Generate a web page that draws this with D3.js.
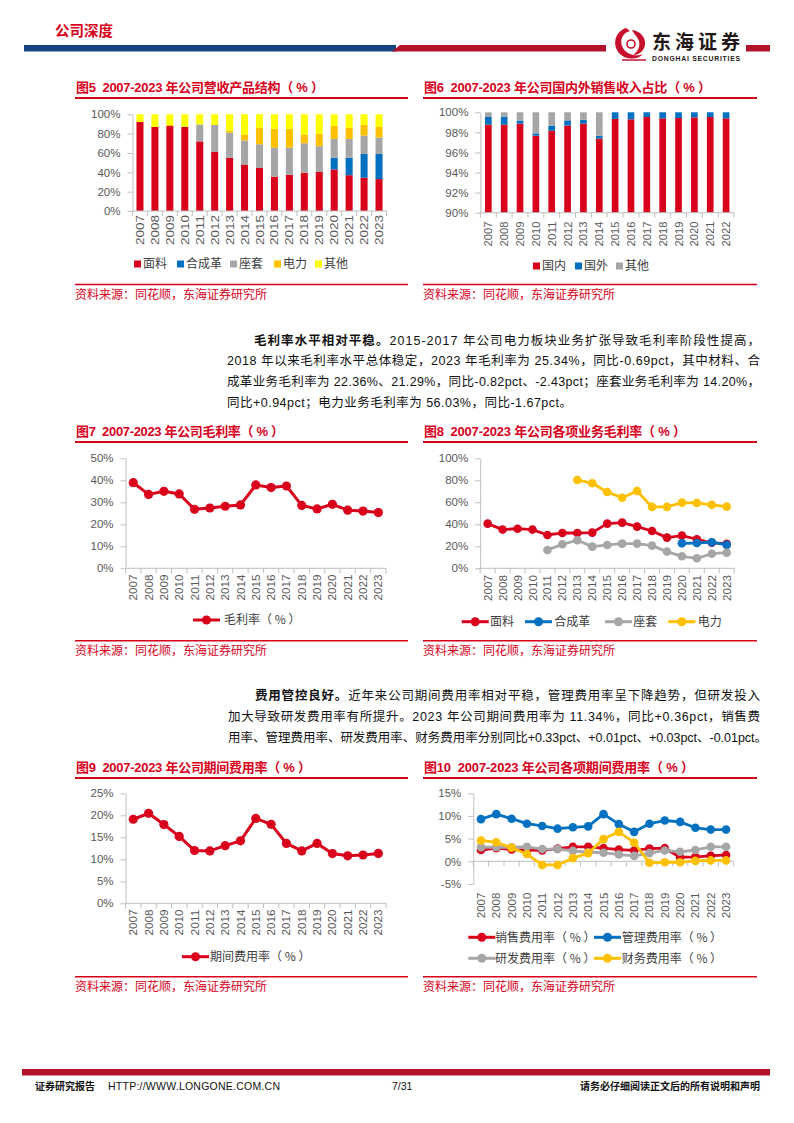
<!DOCTYPE html>
<html><head><meta charset="utf-8">
<script src="https://cdn.jsdelivr.net/npm/d3@7/dist/d3.min.js"></script>
<style>body{margin:0;background:#fff}svg{display:block}</style>
</head><body>
<svg id="page" width="794" height="1123"></svg>
<script>
// ---------------- DATA ----------------
const years = ["2007","2008","2009","2010","2011","2012","2013","2014","2015","2016","2017","2018","2019","2020","2021","2022","2023"];
const years6 = ["2007","2008","2009","2010","2011","2012","2013","2014","2015","2016","2017","2018","2019","2020","2021","2022"];

// Fig 5 revenue structure (%)
const rev_mianliao   = [92,87,88,87,72,61,55,48,44.5,35.5,37.5,39.5,40.5,43,37,34.5,33];
const rev_hechengge  = [0,0,0,0,0,0,0,0,0,0,0,0,0,12,18,24.5,26];
const rev_zuotao     = [0,0,0,0,17.5,28,26,25,24.5,30,28,30.5,26.5,19.5,19.5,19,17];
const rev_dianli     = [0,0,1,0,0,0,2,6,17,19.5,19.5,9,13,13.5,11.5,11,11];
const rev_qita       = [8,13,11,13,10.5,11,17,21,14,15,15,21,20,12,14,11,13];
const rev_names      = ["面料","合成革","座套","电力","其他"];

// Fig 6 domestic / overseas (%)
const sale_domestic = [98.77,98.77,98.87,97.67,98.17,98.67,98.87,97.38,99.34,99.30,99.53,99.40,99.43,99.50,99.53,99.40];
const sale_abroad   = [0.76,0.80,0.30,0.23,0.50,0.53,0.40,0.29,0.66,0.70,0.47,0.60,0.57,0.50,0.47,0.60];
const sale_other    = [0.47,0.43,0.83,2.10,1.33,0.80,0.73,2.33,0,0,0,0,0,0,0,0];
const sale_names    = ["国内","国外","其他"];

// Fig 7 gross margin (%)
const grossMargin = [38.9,33.6,35.0,33.8,26.8,27.4,28.2,28.8,37.9,36.7,37.4,28.6,27.0,29.1,26.4,26.03,25.34];

// Fig 8 gross margin by business (%)
const gm_mianliao  = [40.6,35.2,36.0,35.2,30.3,32.1,32.1,32.4,40.6,41.5,37.9,33.9,27.9,29.7,26.4,23.18,22.36];
const gm_hechengge = [null,null,null,null,null,null,null,null,null,null,null,null,null,22.7,23.0,23.72,21.29];
const gm_zuotao    = [null,null,null,null,16.7,21.8,25.5,19.7,21.2,22.4,22.4,20.6,15.2,10.9,9.1,13.26,14.20];
const gm_dianli    = [null,null,null,null,null,null,80.3,77.3,69.4,64.2,70.3,55.8,55.8,59.7,59.4,57.70,56.03];

// Fig 9 period expense ratio (%)
const expenseRatio = [19.1,20.45,17.9,15.2,12.0,11.9,13.1,14.2,19.3,17.95,13.6,11.9,13.6,11.3,10.8,10.98,11.34];

// Fig 10 expense ratios (%)
const exp_sales = [2.5,2.9,2.6,2.5,2.4,2.8,3.2,3.2,2.9,2.6,2.4,2.8,2.9,0.9,1.0,1.2,1.4];
const exp_admin = [9.3,10.4,9.4,8.3,7.8,7.2,7.5,7.7,10.4,8.2,6.5,8.3,9.0,8.7,7.4,7.0,7.0];
const exp_rd    = [3.1,3.1,3.1,3.2,2.7,2.7,2.3,2.0,1.9,1.5,1.2,1.8,2.4,2.1,2.5,3.2,3.2];
const exp_fin   = [4.6,4.2,3.0,1.6,-0.8,-0.8,0.7,1.8,4.9,6.5,4.1,-0.3,-0.2,-0.2,0.1,0.2,0.2];

// ---------------- STYLE ----------------
const RED = "#D9001B", BLUE = "#0070C0", GRAY = "#A6A6A6", ORANGE = "#FFC000", YELLOW = "#FFFF00";
const TITLE_RED = "#D9001B";
const LAT = "'Liberation Sans', Arial, 'Noto Sans CJK SC', sans-serif";
const CJK = "'Noto Sans CJK SC', 'Liberation Sans', sans-serif";
const AXIS = "#BFBFBF", TICKTXT = "#595959";

const svg = d3.select("#page");

// ---------------- HEADER ----------------
svg.append("text").attr("x",55).attr("y",36).attr("font-family",CJK).attr("font-weight","bold")
  .attr("font-size",14.5).attr("fill",RED).text("公司深度");
svg.append("rect").attr("x",24).attr("y",45).attr("width",372).attr("height",6.5).attr("fill","#17437F");
svg.append("path").attr("d","M392,51.5 L400,45 L770,45 L770,51.5 Z").attr("fill","#B3122B");
// logo
const logo = svg.append("g");
logo.append("rect").attr("x",606).attr("y",22).attr("width",140).attr("height",44).attr("fill","#fff");
logo.append("path").attr("d","M626,28 C614,32 612,46 620,54 C626,60 638,60 643,54 C637,57 627,55 623,48 C619,41 622,33 630,31 Z")
  .attr("fill","#C8102E");
logo.append("path").attr("d","M632,30 C640,31 646,37 645,45 C644,51 639,55 633,55 C639,51 641,44 638,39 C636,35 633,33 632,30 Z")
  .attr("fill","#C8102E");
logo.append("circle").attr("cx",631).attr("cy",44).attr("r",4).attr("fill","none").attr("stroke","#C8102E").attr("stroke-width",1.6);
logo.append("path").attr("d","M622,60 L646,60").attr("stroke","#C8102E").attr("stroke-width",1.5);
logo.append("text").attr("x",652).attr("y",49).attr("font-family",CJK).attr("font-weight","bold")
  .attr("font-size",19).attr("fill","#231815").attr("textLength",88).text("东海证券");
logo.append("text").attr("x",652).attr("y",61).attr("font-family",LAT).attr("font-weight","bold")
  .attr("font-size",6.8).attr("fill","#231815").attr("textLength",88).text("DONGHAI SECURITIES");

// ---------------- HELPERS ----------------
function title(x0, x1, yc, txt, len) {
  svg.append("text").attr("x",x0+1).attr("y",yc+4.5).attr("font-family",LAT).attr("font-weight","bold")
    .attr("font-size",13).attr("fill",TITLE_RED).attr("xml:space","preserve")
    .attr("textLength",len).attr("lengthAdjust","spacing").text(txt);
  svg.append("line").attr("x1",x0).attr("x2",x1).attr("y1",yc+11).attr("y2",yc+11)
    .attr("stroke",TITLE_RED).attr("stroke-width",2);
}
function source(x0, x1, yLine) {
  svg.append("line").attr("x1",x0).attr("x2",x1).attr("y1",yLine).attr("y2",yLine)
    .attr("stroke",TITLE_RED).attr("stroke-width",1.5);
  svg.append("text").attr("x",x0).attr("y",yLine+14.5).attr("font-family",CJK)
    .attr("font-size",12).attr("fill",TITLE_RED).text("资料来源：同花顺，东海证券研究所");
}
function styleAxis(g) {
  g.selectAll("path.domain").attr("stroke",AXIS);
  g.selectAll(".tick line").attr("stroke",AXIS);
  g.selectAll("text").attr("fill",TICKTXT).attr("font-family",LAT);
}
function xAxis(g, x, axisY, labelTop, left, right, fs, tlen) {
  const ax = g.append("g").attr("transform",`translate(0,${axisY})`)
    .call(d3.axisBottom(x).tickSize(0).tickPadding(0));
  ax.select("path.domain").remove();
  ax.selectAll("text").attr("transform","rotate(-90)").attr("text-anchor","end")
    .attr("x",-(labelTop-axisY)).attr("y",0).attr("dy","0.35em")
    .attr("font-size",fs).attr("fill",TICKTXT).attr("font-family",LAT);
  if (tlen) ax.selectAll("text").attr("textLength",tlen).attr("lengthAdjust","spacingAndGlyphs");
  g.append("line").attr("x1",left).attr("x2",right).attr("y1",axisY).attr("y2",axisY).attr("stroke",AXIS);
  const bounds = x.domain().map(d => x(d)).concat([right]);
  g.selectAll(null).data(bounds).join("line")
    .attr("x1",d=>d).attr("x2",d=>d).attr("y1",axisY).attr("y2",axisY+5).attr("stroke",AXIS);
}
function yAxis(g, y, left, ticks, pad, fs) {
  const ax = g.append("g").attr("transform",`translate(${left},0)`)
    .call(d3.axisLeft(y).tickValues(ticks).tickSize(5).tickSizeOuter(0).tickPadding(pad).tickFormat(d => d + "%"));
  styleAxis(ax);
  ax.selectAll("text").attr("font-size",fs);
}

function lineChart(cfg) {
  const g = svg.append("g");
  const x = d3.scaleBand().domain(cfg.cats).range([cfg.left, cfg.right]);
  const y = d3.scaleLinear().domain(cfg.domain).range([cfg.bottom, cfg.top]);
  yAxis(g, y, cfg.left, cfg.ticks, cfg.pad, 11.5);
  xAxis(g, x, y(cfg.base), cfg.labelTop, cfg.left, cfg.right, 11.5, cfg.tlen);
  const bw = x.bandwidth()/2;
  cfg.series.forEach(s => {
    const pts = cfg.cats.map((c,i)=>({c, v:s.values[i]}));
    const line = d3.line().defined(d=>d.v!=null).x(d=>x(d.c)+bw).y(d=>y(d.v));
    g.append("path").attr("d",line(pts)).attr("fill","none").attr("stroke",s.color)
      .attr("stroke-width",cfg.lw).attr("stroke-linejoin","round");
    g.selectAll(null).data(pts.filter(d=>d.v!=null)).join("circle")
      .attr("cx",d=>x(d.c)+bw).attr("cy",d=>y(d.v)).attr("r",cfg.r).attr("fill",s.color);
  });
  return g;
}
function lineLegend(items, fs) {
  items.forEach(it => {
    svg.append("line").attr("x1",it.x).attr("x2",it.x+27).attr("y1",it.y).attr("y2",it.y)
      .attr("stroke",it.color).attr("stroke-width",3);
    svg.append("circle").attr("cx",it.x+13.5).attr("cy",it.y).attr("r",4.5).attr("fill",it.color);
    svg.append("text").attr("x",it.tx).attr("y",it.y+4.3).attr("font-family",CJK).attr("font-size",fs)
      .attr("fill","#404040").attr("xml:space","preserve").text(it.label);
  });
}
function barLegend(items, fs) {
  items.forEach(it => {
    svg.append("rect").attr("x",it.x).attr("y",it.y-3.5).attr("width",7).attr("height",7).attr("fill",it.color);
    svg.append("text").attr("x",it.x+9).attr("y",it.y+4.3).attr("font-family",CJK).attr("font-size",fs)
      .attr("fill","#404040").text(it.label);
  });
}
function stackBars(cfg) {
  const g = svg.append("g");
  const x = d3.scaleBand().domain(cfg.cats).range([cfg.left, cfg.right]).paddingInner(cfg.padding).paddingOuter(cfg.padding/2);
  const y = d3.scaleLinear().domain(cfg.domain).range([cfg.bottom, cfg.top]).clamp(true);
  const rows = cfg.cats.map((c,i)=>{ const o={c}; cfg.keys.forEach((k,j)=>o[k]=cfg.values[j][i]); return o; });
  const stack = d3.stack().keys(cfg.keys)(rows);
  stack.forEach((layer,j) => {
    g.selectAll(null).data(layer.filter(d=>d[1]-d[0]>0)).join("rect")
      .attr("x",d=>x(d.data.c)).attr("width",x.bandwidth())
      .attr("y",d=>y(d[1])).attr("height",d=>y(d[0])-y(d[1])).attr("fill",cfg.colors[j]);
  });
  yAxis(g, y, cfg.left, cfg.ticks, cfg.pad, 11.5);
  const xb = d3.scaleBand().domain(cfg.cats).range([cfg.left, cfg.right]);
  xAxis(g, xb, cfg.bottom, cfg.labelTop, cfg.left, cfg.right, 11.5, cfg.tlen);
  return g;
}

// ---------------- ROW 1 ----------------
title(75, 408, 87, "图5  2007-2023 年公司营收产品结构（ % ）", 248);
title(423, 757, 87, "图6  2007-2023 年公司国内外销售收入占比（ % ）", 287);

stackBars({cats:years, keys:rev_names,
  values:[rev_mianliao,rev_hechengge,rev_zuotao,rev_dianli,rev_qita],
  colors:[RED,BLUE,GRAY,ORANGE,YELLOW],
  left:132.5, right:386.5, top:114.3, bottom:211, domain:[0,100], ticks:[0,20,40,60,80,100],
  pad:7, padding:0.53, labelTop:215, tlen:30});
barLegend([
  {x:134,y:264,color:RED,label:"面料"},
  {x:177,y:264,color:BLUE,label:"合成革"},
  {x:230,y:264,color:GRAY,label:"座套"},
  {x:274,y:264,color:ORANGE,label:"电力"},
  {x:315,y:264,color:YELLOW,label:"其他"}], 12);

stackBars({cats:years6, keys:sale_names,
  values:[sale_domestic,sale_abroad,sale_other],
  colors:[RED,BLUE,GRAY],
  left:480.4, right:734, top:112.3, bottom:212.7, domain:[90,100], ticks:[90,92,94,96,98,100],
  pad:7, padding:0.58, labelTop:221.5, tlen:25});
barLegend([
  {x:533,y:266,color:RED,label:"国内"},
  {x:575,y:266,color:BLUE,label:"国外"},
  {x:616,y:266,color:GRAY,label:"其他"}], 12);

source(75, 408, 284.5);
source(423, 757, 284.5);

// ---------------- PARAGRAPHS ----------------
function para(lines) {
  lines.forEach(l => {
    const t = svg.append("text").attr("x",l.x).attr("y",l.y).attr("font-family",LAT)
      .attr("font-size",12.5).attr("fill","#111").attr("textLength",l.w).attr("lengthAdjust","spacing");
    if (l.bold) t.append("tspan").attr("font-family",CJK).attr("font-weight","bold").text(l.bold);
    t.append("tspan").text(l.text);
  });
}
para([
  {x:254,y:344.5,w:506,bold:"毛利率水平相对平稳。",text:"2015-2017 年公司电力板块业务扩张导致毛利率阶段性提高，"},
  {x:227,y:365,w:533,text:"2018 年以来毛利率水平总体稳定，2023 年毛利率为 25.34%，同比-0.69pct，其中材料、合"},
  {x:227,y:386,w:533,text:"成革业务毛利率为 22.36%、21.29%，同比-0.82pct、-2.43pct；座套业务毛利率为 14.20%，"},
  {x:227,y:406.8,w:345,text:"同比+0.94pct；电力业务毛利率为 56.03%，同比-1.67pct。"}
]);

// ---------------- ROW 2 ----------------
title(75, 408, 431, "图7  2007-2023 年公司毛利率（ % ）", 208);
title(423, 757, 431, "图8  2007-2023 年公司各项业务毛利率（ % ）", 262);

lineChart({cats:years, left:125.6, right:386, top:458.3, bottom:568.3, domain:[0,50], base:0,
  ticks:[0,10,20,30,40,50], pad:7, labelTop:574.5, lw:3, r:4.6, tlen:26,
  series:[{values:grossMargin,color:RED}]});
lineLegend([{x:193,y:620,tx:224,color:RED,label:"毛利率（ % ）"}], 12);

lineChart({cats:years, left:480.2, right:734.2, top:458.3, bottom:568.3, domain:[0,100], base:0,
  ticks:[0,20,40,60,80,100], pad:7, labelTop:575, lw:2.8, r:4.3, tlen:26,
  series:[{values:gm_mianliao,color:RED},{values:gm_hechengge,color:BLUE},
          {values:gm_zuotao,color:GRAY},{values:gm_dianli,color:ORANGE}]});
lineLegend([
  {x:461.7,y:621.7,tx:490,color:RED,label:"面料"},
  {x:525,y:621.7,tx:554.3,color:BLUE,label:"合成革"},
  {x:605,y:621.7,tx:633.3,color:GRAY,label:"座套"},
  {x:668.3,y:621.7,tx:697.7,color:ORANGE,label:"电力"}], 12);

source(75, 408, 640.7);
source(423, 757, 640.7);

// ---------------- PARAGRAPH 2 ----------------
para([
  {x:255,y:700.2,w:505,bold:"费用管控良好。",text:"近年来公司期间费用率相对平稳，管理费用率呈下降趋势，但研发投入"},
  {x:228,y:720.9,w:532,text:"加大导致研发费用率有所提升。2023 年公司期间费用率为 11.34%，同比+0.36pct，销售费"},
  {x:228,y:741.5,w:539,text:"用率、管理费用率、研发费用率、财务费用率分别同比+0.33pct、+0.01pct、+0.03pct、-0.01pct。"}
]);

// ---------------- ROW 3 ----------------
title(75, 408, 767, "图9  2007-2023 年公司期间费用率（ % ）", 235);
title(423, 757, 767, "图10  2007-2023 年公司各项期间费用率（ % ）", 270);

lineChart({cats:years, left:125.6, right:386, top:793.3, bottom:903.3, domain:[0,25], base:0,
  ticks:[0,5,10,15,20,25], pad:7, labelTop:909.5, lw:3, r:4.6, tlen:26,
  series:[{values:expenseRatio,color:RED}]});
lineLegend([{x:182,y:956.7,tx:210,color:RED,label:"期间费用率（ % ）"}], 12);

lineChart({cats:years, left:473.3, right:733.7, top:793.3, bottom:884, domain:[-5,15], base:0,
  ticks:[-5,0,5,10,15], pad:7, labelTop:892.7, lw:2.8, r:4.3, tlen:25.5,
  series:[{values:exp_sales,color:RED},{values:exp_admin,color:BLUE},
          {values:exp_rd,color:GRAY},{values:exp_fin,color:ORANGE}]});
lineLegend([
  {x:468.3,y:937.3,tx:495,color:RED,label:"销售费用率（ % ）"},
  {x:594,y:937.3,tx:621.7,color:BLUE,label:"管理费用率（ % ）"},
  {x:468.3,y:958.3,tx:495,color:GRAY,label:"研发费用率（ % ）"},
  {x:594,y:958.3,tx:621.7,color:ORANGE,label:"财务费用率（ % ）"}], 12);

source(75, 408, 976.7);
source(423, 757, 976.7);

// ---------------- FOOTER ----------------
svg.append("rect").attr("x",22).attr("y",1069).attr("width",748).attr("height",6.5).attr("fill","#B3122B");
svg.append("text").attr("x",35).attr("y",1090).attr("font-family",CJK).attr("font-weight","bold")
  .attr("font-size",10).attr("fill","#111").text("证券研究报告");
svg.append("text").attr("x",108).attr("y",1090).attr("font-family",LAT)
  .attr("font-size",10.5).attr("fill","#111").attr("textLength",172).text("HTTP://WWW.LONGONE.COM.CN");
svg.append("text").attr("x",392).attr("y",1090).attr("font-family",LAT)
  .attr("font-size",10.5).attr("fill","#111").text("7/31");
svg.append("text").attr("x",760).attr("y",1090).attr("text-anchor","end").attr("font-family",CJK).attr("font-weight","bold")
  .attr("font-size",10).attr("fill","#111").text("请务必仔细阅读正文后的所有说明和声明");
</script>
</body></html>
